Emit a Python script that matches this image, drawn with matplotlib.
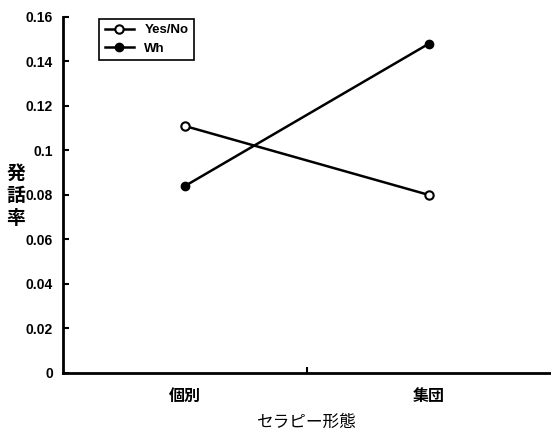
import matplotlib
matplotlib.use('Agg')
import matplotlib.pyplot as plt

plt.rcParams['font.family'] = ['Liberation Sans', 'Noto Sans CJK JP']

# data
categories = ['個別', '集団']
yes_no = [0.111, 0.080]
wh = [0.084, 0.148]
y_ticks = [0, 0.02, 0.04, 0.06, 0.08, 0.1, 0.12, 0.14, 0.16]
y_tick_labels = ['0', '0.02', '0.04', '0.06', '0.08', '0.1', '0.12', '0.14', '0.16']

fig = plt.figure(figsize=(5.51, 4.30), dpi=100)
ax = fig.add_axes([0.114, 0.1326, 0.886, 0.828])

xpos = [0.5, 1.5]
ax.plot(xpos, yes_no, color='black', lw=1.8, marker='o', markersize=6,
        markerfacecolor='white', markeredgecolor='black', markeredgewidth=1.5,
        label='Yes/No')
ax.plot(xpos, wh, color='black', lw=1.8, marker='o', markersize=6,
        markerfacecolor='black', markeredgecolor='black', label='Wh')

ax.set_xlim(0, 2)
ax.set_ylim(0, 0.16)
ax.set_yticks(y_ticks)
ax.set_yticklabels(y_tick_labels, fontsize=10, fontweight='bold')
ax.set_xticks([1])
ax.set_xticklabels([''])
for x, name in zip(xpos, categories):
    ax.text(x, -0.0105, name, ha='center', va='center', fontsize=11.5,
            fontweight='bold', family=['Noto Sans CJK JP'], transform=ax.transData)
ax.text(0.5, -0.14, 'セラピー形態', ha='center', va='center', fontsize=12,
        family=['Noto Sans CJK JP'], transform=ax.transAxes)
fig.text(0.029, 0.545, '発\n話\n率', ha='center', va='center', fontsize=13.5,
         fontweight='bold', family=['Noto Sans CJK JP'], linespacing=1.25)

ax.tick_params(axis='y', direction='in', length=4, width=1.5, pad=7)
ax.tick_params(axis='x', direction='in', length=4, width=1.5)
ax.spines['top'].set_visible(False)
ax.spines['right'].set_visible(False)
ax.spines['left'].set_linewidth(2)
ax.spines['bottom'].set_linewidth(2)

leg = ax.legend(loc='upper left', bbox_to_anchor=(0.075, 0.995), borderaxespad=0,
                fancybox=False, edgecolor='black', framealpha=1, handlelength=2.2,
                borderpad=0.4, labelspacing=0.5, prop={'weight': 'bold', 'size': 9.5})
leg.get_frame().set_linewidth(1.2)

fig.savefig('out.png', dpi=100)
